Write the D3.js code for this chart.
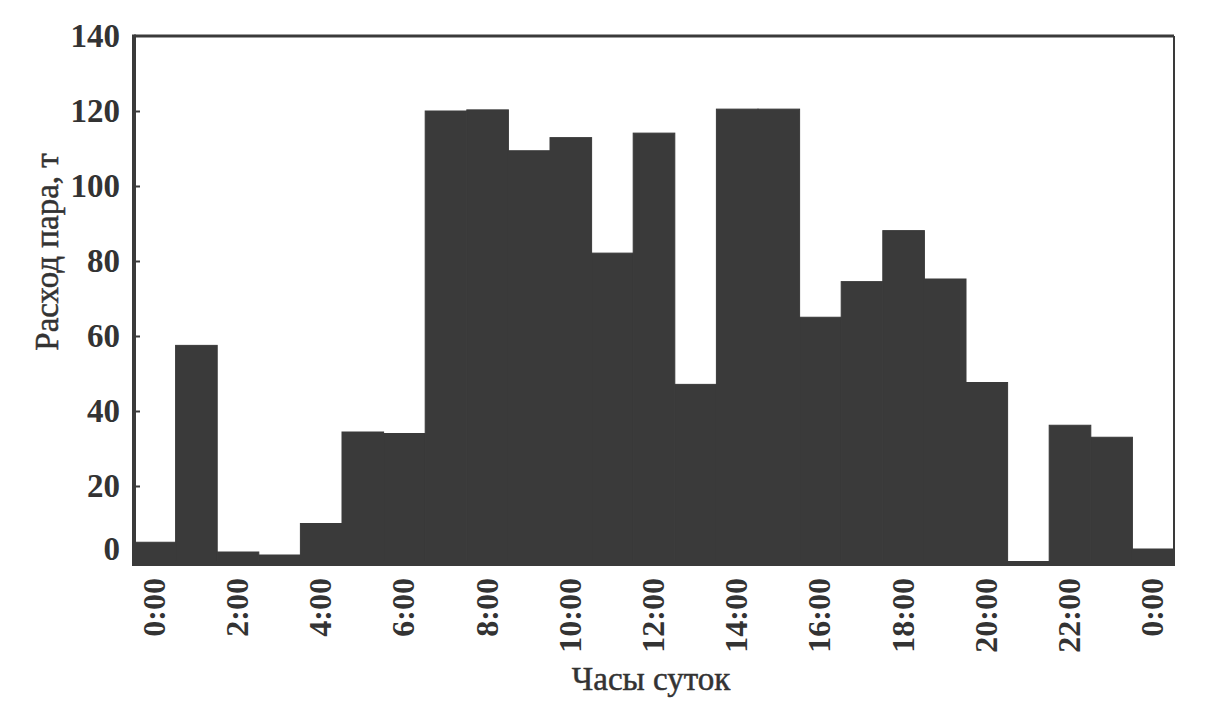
<!DOCTYPE html>
<html>
<head>
<meta charset="utf-8">
<script src="https://cdn.jsdelivr.net/npm/d3@7"></script>
<style>
  html, body { margin: 0; padding: 0; background: #fff; }
  text { font-family: "Liberation Serif", "Times New Roman", serif; fill: #333; }
</style>
</head>
<body>
<script>
// Data
const hours = [0,1,2,3,4,5,6,7,8,9,10,11,12,13,14,15,16,17,18,19,20,21,22,23,24];
const steam = [5, 57.5, 2.4, 1.6, 10, 34.4, 34, 120, 120.3, 109.4, 112.9, 82.1, 114.1, 47.1, 120.5, 120.5, 65, 74.5, 88.1, 75.2, 47.6, 0, 36.2, 33, 3.2];
const xTickHours = [0,2,4,6,8,10,12,14,16,18,20,22,24];
const xTickLabels = ["0:00","2:00","4:00","6:00","8:00","10:00","12:00","14:00","16:00","18:00","20:00","22:00","0:00"];
const yTicks = [0,20,40,60,80,100,120,140];
const yTitle = "Расход пара, т";
const xTitle = "Часы суток";

const W = 1213, H = 724;
const mLeft = 134, mRight = 1174, mTop = 36, mBottom = 561;

const svg = d3.select("body").append("svg").attr("width", W).attr("height", H);

const x = d3.scaleBand().domain(hours).range([mLeft, mRight]).padding(0);
const y = d3.scaleLinear().domain([0, 140]).range([mBottom, mTop]);

const ink = "#3a3a3a";

// bars
svg.append("g").selectAll("rect").data(hours).join("rect")
  .attr("x", h => x(h))
  .attr("width", x.bandwidth())
  .attr("y", (h, i) => y(steam[i]))
  .attr("height", (h, i) => y(0) - y(steam[i]))
  .attr("fill", ink)
  .attr("stroke", ink)
  .attr("stroke-width", (h, i) => steam[i] > 0 ? 1 : 0);

// frame: top and right lines
svg.append("line").attr("x1", mLeft).attr("x2", mRight).attr("y1", mTop).attr("y2", mTop)
  .attr("stroke", ink).attr("stroke-width", 3);
svg.append("line").attr("x1", mRight).attr("x2", mRight).attr("y1", mTop).attr("y2", mBottom + 4)
  .attr("stroke", ink).attr("stroke-width", 2);

// y axis
const yAxis = d3.axisLeft(y).tickValues(yTicks).tickSize(-6).tickPadding(14).tickFormat(d3.format("d"));
const gy = svg.append("g").attr("transform", `translate(${mLeft},0)`).call(yAxis);
gy.select(".domain").attr("stroke", ink).attr("stroke-width", 4)
  .attr("d", `M0,${mTop - 1.5}V${mBottom + 5}`);
gy.selectAll(".tick line").attr("stroke", ink).attr("stroke-width", 2)
  .attr("display", d => (d === 0 || d === 140) ? "none" : null);
gy.selectAll(".tick text").attr("font-size", 33).attr("font-weight", "bold").attr("fill", "#333")
  .attr("font-family", "Liberation Serif")
  .attr("dy", d => d === 0 ? "-0.05em" : "0.32em");

// x axis
const gx = svg.append("g").attr("transform", `translate(0,${mBottom})`);
gx.append("line").attr("x1", mLeft - 2).attr("x2", mRight + 1).attr("y1", 2.5).attr("y2", 2.5)
  .attr("stroke", ink).attr("stroke-width", 5);
gx.selectAll("text.xt").data(xTickHours).join("text")
  .attr("class", "xt")
  .attr("transform", (h) => `translate(${x(h) + x.bandwidth() / 2 + 10},${17}) rotate(-90)`)
  .attr("text-anchor", "end")
  .attr("font-size", 32).attr("font-weight", "bold")
  .text((h, i) => xTickLabels[i]);

// titles
svg.append("text")
  .attr("transform", `translate(58,${252}) rotate(-90)`)
  .attr("text-anchor", "middle")
  .attr("font-size", 33)
  .attr("stroke", "#333").attr("stroke-width", 0.5)
  .text(yTitle);
svg.append("text")
  .attr("x", 651).attr("y", 690)
  .attr("text-anchor", "middle")
  .attr("font-size", 33)
  .attr("stroke", "#333").attr("stroke-width", 0.5)
  .text(xTitle);
</script>
</body>
</html>
